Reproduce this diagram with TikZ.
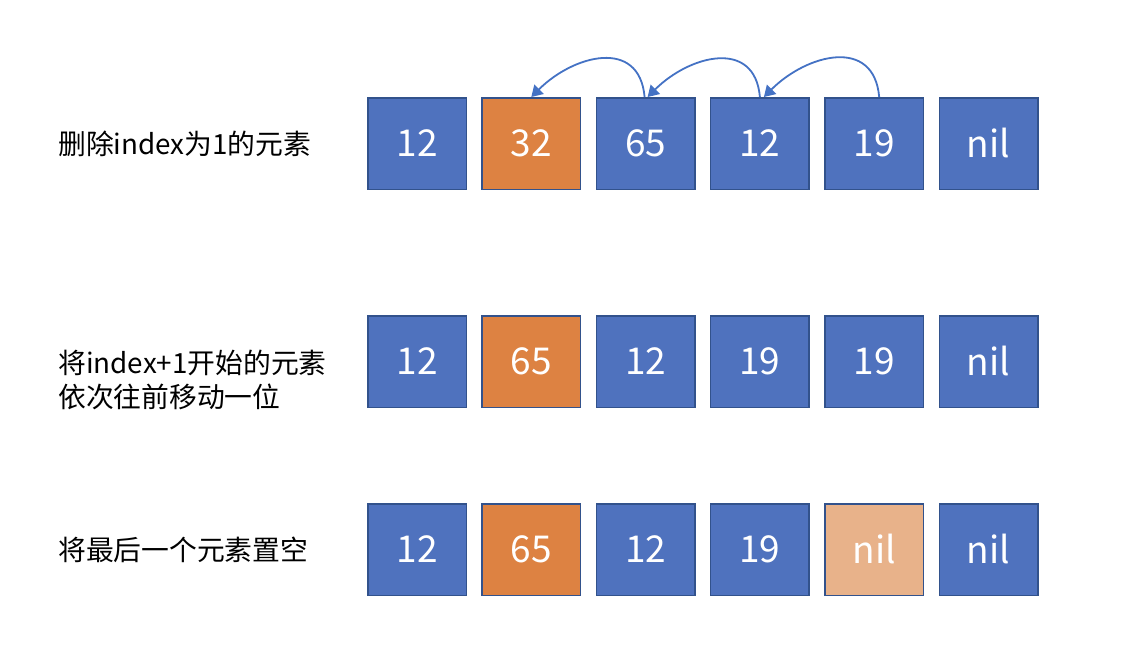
\documentclass[tikz,border=0pt]{standalone}
\usepackage{fontspec}
\setmainfont{Noto Sans CJK SC}
\usetikzlibrary{arrows.meta}
\definecolor{cblue}{RGB}{79,114,190}
\definecolor{corange}{RGB}{221,130,66}
\definecolor{clight}{RGB}{232,178,138}
\definecolor{cborder}{RGB}{50,82,140}
\definecolor{carrow}{RGB}{68,114,196}
\begin{document}
\begin{tikzpicture}[x=1pt,y=-1pt,
  cell/.style={draw=cborder, line width=1.5pt, fill=cblue, minimum width=98.5pt, minimum height=91.5pt, inner sep=0pt, text=white, font=\fontsize{37}{44}\selectfont},
  hot/.style={fill=corange},
  pale/.style={fill=clight},
  lbl/.style={anchor=west, inner sep=0pt, align=left, font=\fontsize{27.8}{34}\selectfont},
  movearrow/.style={draw=carrow, line width=1.8pt, -{Triangle[length=11pt,width=13pt]}, out=95, in=45, looseness=1.35}]
\useasboundingbox (0,0) rectangle (1130,672);
% row 1
\node[lbl] (l1) at (58,143.5) {删除index为1的元素};
\node[cell] (a0) at (417.0,143.5) {12};
\node[cell,hot] (a1) at (531.3,143.5) {32};
\node[cell] (a2) at (645.6,143.5) {65};
\node[cell] (a3) at (759.9,143.5) {12};
\node[cell] (a4) at (874.2,143.5) {19};
\node[cell] (a5) at (988.5,143.5) {nil};
% row 2
\node[lbl] (l2) at (58,380) {将index+1开始的元素\\依次往前移动一位};
\node[cell] (b0) at (417.0,361.5) {12};
\node[cell,hot] (b1) at (531.3,361.5) {65};
\node[cell] (b2) at (645.6,361.5) {12};
\node[cell] (b3) at (759.9,361.5) {19};
\node[cell] (b4) at (874.2,361.5) {19};
\node[cell] (b5) at (988.5,361.5) {nil};
% row 3
\node[lbl] (l3) at (58,549.5) {将最后一个元素置空};
\node[cell] (c0) at (417.0,549.5) {12};
\node[cell,hot] (c1) at (531.3,549.5) {65};
\node[cell] (c2) at (645.6,549.5) {12};
\node[cell] (c3) at (759.9,549.5) {19};
\node[cell,pale] (c4) at (874.2,549.5) {nil};
\node[cell] (c5) at (988.5,549.5) {nil};
% arrows
\draw[movearrow] ([xshift=5pt]a4.north) to ([xshift=4pt]a3.north);
\draw[movearrow] (a3.north) to ([xshift=2pt]a2.north);
\draw[movearrow] ([xshift=-1pt]a2.north) to (a1.north);
\end{tikzpicture}
\end{document}
